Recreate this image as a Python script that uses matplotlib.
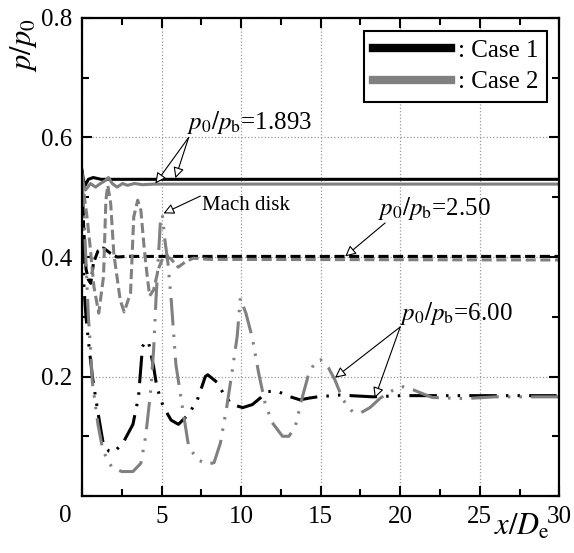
import matplotlib
matplotlib.use('Agg')
import matplotlib.pyplot as plt
from matplotlib.ticker import MultipleLocator

plt.rcParams['font.family'] = ['Liberation Serif', 'DejaVu Serif']
plt.rcParams['mathtext.fontset'] = 'stix'

# p0/pb = 1.893 (solid)
x1_c1 = [0.0, 0.08, 0.2, 0.4, 0.7, 1.2, 30.0]
y1_c1 = [0.545, 0.53, 0.52, 0.53, 0.533, 0.53, 0.53]
x1_c2 = [0.0, 0.1, 0.22, 0.53, 0.85, 1.16, 1.47, 1.66, 1.9, 2.2, 2.55, 2.85, 3.3, 3.8, 4.5, 30.0]
y1_c2 = [0.54, 0.52, 0.512, 0.523, 0.517, 0.523, 0.528, 0.533, 0.523, 0.517, 0.523, 0.52, 0.523, 0.521, 0.522, 0.522]

# p0/pb = 2.50 (dashed)
x2_c1 = [0.0, 0.1, 0.25, 0.4, 0.55, 0.72, 1.0, 1.35, 1.8, 2.2, 2.8, 30.0]
y2_c1 = [0.535, 0.45, 0.38, 0.362, 0.356, 0.39, 0.41, 0.415, 0.406, 0.4, 0.401, 0.401]
x2_c2 = [0.0, 0.3, 0.5, 0.75, 1.05, 1.35, 1.5, 1.62, 1.8, 2.0, 2.4, 2.65, 3.05, 3.25, 3.5, 3.7,
         3.9, 4.1, 4.25, 4.5, 4.8, 5.1, 5.55, 6.05, 6.5, 7.0, 8.0, 30.0]
y2_c2 = [0.53, 0.47, 0.42, 0.35, 0.306, 0.367, 0.495, 0.52, 0.49, 0.405, 0.328, 0.308, 0.34, 0.467, 0.495, 0.478,
         0.417, 0.367, 0.335, 0.345, 0.38, 0.40, 0.398, 0.383, 0.392, 0.398, 0.396, 0.395]

# p0/pb = 6.00 (dash-dot-dot)
x6_c1 = [0.0, 0.05, 0.12, 0.25, 0.4, 0.65, 1.0, 1.35, 1.7, 2.0, 2.6, 3.2, 3.55, 3.8, 4.0, 4.2, 4.5, 4.7,
         5.1, 5.6, 6.06, 6.7, 7.25, 7.75, 7.9, 8.5, 9.0, 9.45, 10.1, 10.7, 11.2, 11.7, 12.3, 13.1, 13.7,
         14.3, 14.8, 16.2, 18.3, 20.0, 30.0]
y6_c1 = [0.535, 0.45, 0.35, 0.3, 0.26, 0.2, 0.14, 0.085, 0.075, 0.073, 0.09, 0.12, 0.166, 0.25, 0.26, 0.255, 0.216, 0.183,
         0.15, 0.127, 0.12, 0.137, 0.161, 0.2, 0.203, 0.19, 0.166, 0.153, 0.148, 0.153, 0.164, 0.175, 0.175, 0.166, 0.161,
         0.164, 0.166, 0.169, 0.166, 0.168, 0.168]
x6_c2 = [0.0, 0.1, 0.22, 0.4, 0.55, 0.65, 1.0, 1.3, 1.5, 1.9, 2.5, 3.2, 3.7, 4.0, 4.3, 4.5, 4.65, 4.8, 4.95,
         5.05, 5.2, 5.4, 5.6, 5.9, 6.3, 6.7, 7.25, 7.9, 8.3, 8.7, 9.1, 9.45, 9.75, 9.95, 10.3, 10.7, 11.1,
         11.5, 11.95, 12.6, 13.0, 13.4, 13.8, 14.2, 14.65, 15.0, 15.5, 15.9, 16.4, 17.0, 17.5, 18.1, 18.75,
         19.6, 20.2, 20.8, 21.25, 22.0, 24.0, 26.0, 30.0]
y6_c2 = [0.53, 0.48, 0.41, 0.3, 0.24, 0.19, 0.12, 0.078, 0.066, 0.047, 0.041, 0.041, 0.055, 0.1, 0.172, 0.245, 0.33, 0.40, 0.47,
         0.47, 0.43, 0.39, 0.33, 0.22, 0.15, 0.083, 0.061, 0.053, 0.056, 0.089, 0.15, 0.211, 0.267, 0.331, 0.306, 0.265, 0.206,
         0.156, 0.123, 0.1, 0.1, 0.116, 0.161, 0.2, 0.225, 0.228, 0.214, 0.194, 0.161, 0.141, 0.139, 0.148, 0.164,
         0.178, 0.183, 0.178, 0.173, 0.165, 0.163, 0.166, 0.166]

black = 'black'
gray = '#808080'
lw = 2.2
dash = (3.3, 1.5)
dashdotdot = (9, 3, 0.8, 3, 0.8, 3)

fig = plt.figure(figsize=(5.74, 5.53), dpi=100)
ax = fig.add_axes([0.1429, 0.103, 0.8316, 0.8645])

ax.plot(x1_c1, y1_c1, color=black, lw=lw, ls='-', label=': Case 1')
ax.plot(x2_c1, y2_c1, color=black, lw=lw, dashes=dash)
ax.plot(x6_c1, y6_c1, color=black, lw=lw, dashes=dashdotdot)
ax.plot(x1_c2, y1_c2, color=gray, lw=lw, ls='-', label=': Case 2')
ax.plot(x2_c2, y2_c2, color=gray, lw=lw, dashes=dash)
ax.plot(x6_c2, y6_c2, color=gray, lw=lw, dashes=dashdotdot)

ax.set_xlim(0, 30)
ax.set_ylim(0, 0.8)
ax.xaxis.set_major_locator(MultipleLocator(5))
ax.xaxis.set_minor_locator(MultipleLocator(2.5))
ax.yaxis.set_major_locator(MultipleLocator(0.2))
ax.yaxis.set_minor_locator(MultipleLocator(0.1))
ax.set_xticks([0, 5, 10, 15, 20, 25, 30])
ax.set_xticklabels(['', '5', '10', '15', '20', '25', '30'])
ax.set_yticks([0, 0.2, 0.4, 0.6, 0.8])
ax.set_yticklabels(['', '0.2', '0.4', '0.6', '0.8'])
ax.tick_params(which='both', direction='in', top=True, right=True, labelsize=18, width=1.5)
ax.tick_params(which='major', length=7, pad=7)
ax.tick_params(which='minor', length=5)
for s in ax.spines.values():
    s.set_linewidth(1.6)
ax.grid(True, which='major', ls=':', color='0.6', lw=0.9)
ax.set_axisbelow(True)

ax.text(-0.035, -0.019, '0', transform=ax.transAxes, ha='center', va='top', fontsize=18)
ax.text(-0.122, 1.0, r'$p/p_0$', transform=ax.transAxes, rotation=90, ha='center', va='top', fontsize=22)
ax.text(0.98, -0.035, r'$x/D_\mathrm{e}$', transform=ax.transAxes, ha='right', va='top', fontsize=22)

leg = ax.legend(loc='upper right', bbox_to_anchor=(0.975, 0.973), borderaxespad=0, fontsize=18,
                handlelength=3.1, handletextpad=0.3, labelspacing=0.35, borderpad=0.35,
                fancybox=False, framealpha=1, edgecolor='black')
leg.get_frame().set_linewidth(1.5)
for h in leg.get_lines():
    h.set_linewidth(6)

arrow = dict(arrowstyle='-|>', fc='white', ec='black', lw=0.8, mutation_scale=16, shrinkA=0, shrinkB=0)

ax.text(6.6, 0.625, r'$p_0/p_\mathrm{b}$=1.893', fontsize=18, ha='left', va='center')
ax.annotate('', xy=(4.61, 0.523), xytext=(6.7, 0.600), arrowprops=arrow)
ax.annotate('', xy=(5.87, 0.532), xytext=(6.7, 0.600), arrowprops=arrow)

ax.text(7.56, 0.487, 'Mach disk', fontsize=15, ha='left', va='center')
ax.annotate('', xy=(5.12, 0.473), xytext=(7.44, 0.502), arrowprops=arrow)

ax.text(18.6, 0.482, r'$p_0/p_\mathrm{b}$=2.50', fontsize=18, ha='left', va='center')
ax.annotate('', xy=(16.54, 0.401), xytext=(19.05, 0.457), arrowprops=arrow)

ax.text(20.0, 0.306, r'$p_0/p_\mathrm{b}$=6.00', fontsize=18, ha='left', va='center')
ax.annotate('', xy=(15.9, 0.198), xytext=(20.0, 0.283), arrowprops=arrow)
ax.annotate('', xy=(18.4, 0.164), xytext=(20.0, 0.283), arrowprops=arrow)

fig.savefig('out.png', dpi=100)
